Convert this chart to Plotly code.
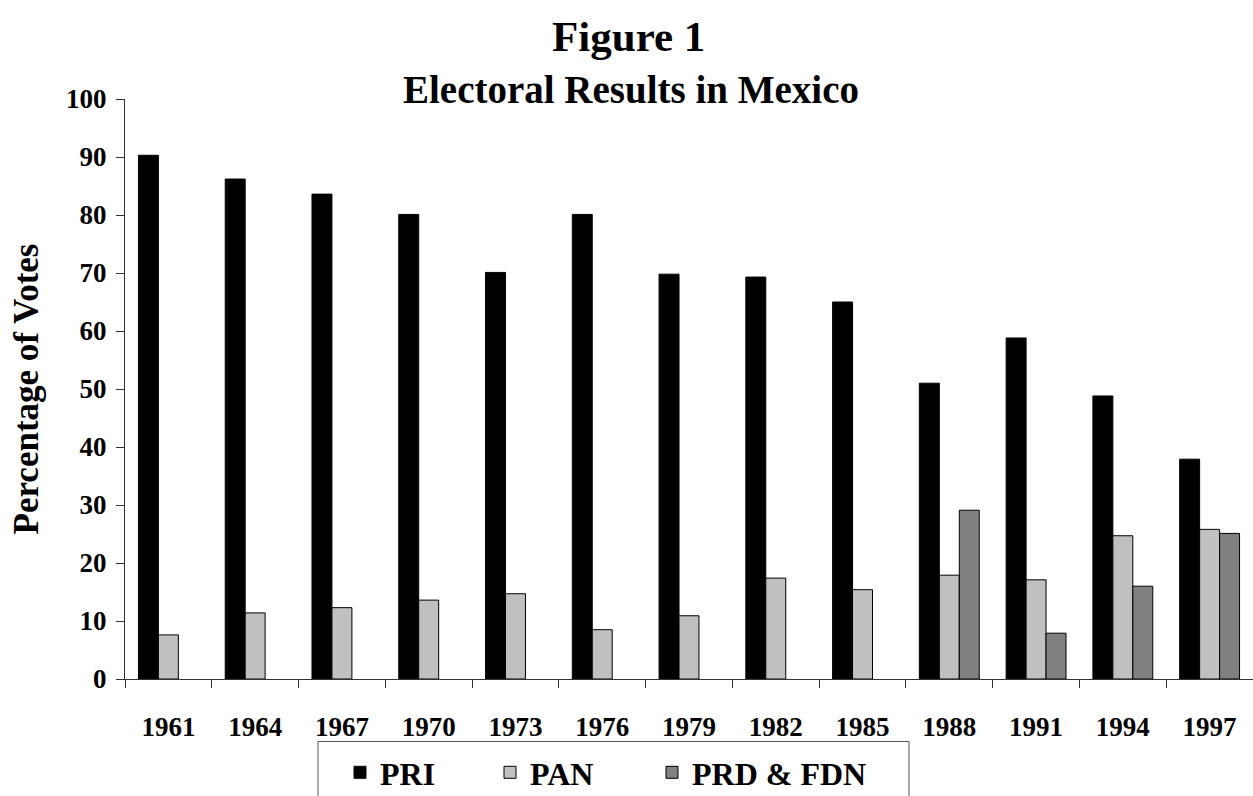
import plotly.graph_objects as go

# Election years and vote shares (%)
years = ["1961", "1964", "1967", "1970", "1973", "1976", "1979",
         "1982", "1985", "1988", "1991", "1994", "1997"]
pri = [90.3, 86.2, 83.6, 80.1, 70.1, 80.1, 69.8, 69.3, 65.0, 51.0, 58.8, 48.8, 37.9]
pan = [7.6, 11.4, 12.3, 13.6, 14.7, 8.5, 10.9, 17.4, 15.4, 17.9, 17.1, 24.7, 25.8]
prd_fdn = [None, None, None, None, None, None, None, None, None, 29.1, 7.9, 16.0, 25.1]

FONT = "Liberation Serif"
W, H = 1253, 796
L, R, T, B = 125, 0, 99, 117
plot_h = H - T - B


def py(pixel_y):
    """Convert a pixel row to paper y coordinates."""
    return (H - B - pixel_y) / plot_h


def px(pixel_x):
    return (pixel_x - L) / (W - L - R)


fig = go.Figure()
fig.add_trace(go.Bar(x=years, y=pri, name="PRI", legend="legend",
                     marker=dict(color="#000000", line=dict(color="#000000", width=1))))
fig.add_trace(go.Bar(x=years, y=pan, name="PAN", legend="legend2",
                     marker=dict(color="#C0C0C0", line=dict(color="#000000", width=1))))
fig.add_trace(go.Bar(x=years, y=prd_fdn, name="PRD & FDN", legend="legend3",
                     marker=dict(color="#808080", line=dict(color="#000000", width=1))))

legend_font = dict(family=FONT, size=32, color="black", weight="bold")


def legend_at(left_px):
    return dict(orientation="h", x=px(left_px), xanchor="left",
                y=py(745), yanchor="top", font=legend_font,
                bgcolor="rgba(0,0,0,0)", borderwidth=0)


fig.update_layout(
    width=W, height=H,
    margin=dict(l=L, r=R, t=T, b=B, autoexpand=False),
    paper_bgcolor="white", plot_bgcolor="white",
    barmode="group", bargap=0.31, bargroupgap=0,
    font=dict(family=FONT, color="black"),
    showlegend=True,
    legend=legend_at(340),
    legend2=legend_at(490),
    legend3=legend_at(652),
    xaxis=dict(
        showline=True, linecolor="#333333", linewidth=1,
        ticks="outside", ticklen=8, tickcolor="#333333", tickson="boundaries",
        tickfont=dict(family=FONT, size=27, color="black", weight="bold"),
        ticklabelstandoff=24,
        showgrid=False, zeroline=False, fixedrange=True,
    ),
    yaxis=dict(
        range=[0, 100], dtick=10, tick0=0,
        showline=True, linecolor="#333333", linewidth=1,
        ticks="outside", ticklen=8, tickcolor="#333333",
        tickfont=dict(family=FONT, size=27, color="black", weight="bold"),
        ticklabelstandoff=4,
        showgrid=False, zeroline=False, fixedrange=True,
        title=dict(text="Percentage of Votes", standoff=16,
                   font=dict(family=FONT, size=35, color="black", weight="bold")),
    ),
    shapes=[
        # legend frame, open at the bottom edge of the page
        dict(type="rect", xref="paper", yref="paper",
             x0=px(318), x1=px(909), y0=py(805), y1=py(741.5),
             line=dict(color="#555555", width=1), fillcolor="rgba(0,0,0,0)"),
    ],
    annotations=[
        dict(text="<b>Figure 1</b>", xref="paper", yref="paper",
             x=px(628), y=py(37), xanchor="center", yanchor="middle",
             showarrow=False, font=dict(family=FONT, size=43, color="black")),
        dict(text="<b>Electoral Results in Mexico</b>", xref="paper", yref="paper",
             x=px(631), y=py(89), xanchor="center", yanchor="middle",
             showarrow=False, font=dict(family=FONT, size=39, color="black")),
    ],
)

fig.write_html("out.html")
